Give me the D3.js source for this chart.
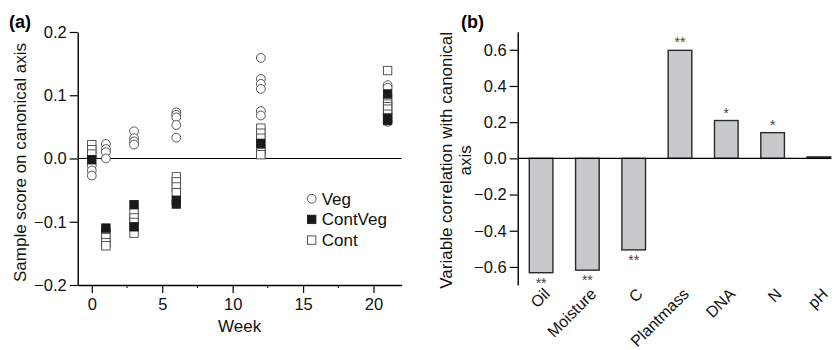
<!DOCTYPE html>
<html>
<head>
<meta charset="utf-8">
<script src="https://cdn.jsdelivr.net/npm/d3@7"></script>
<style>
  body { margin: 0; background: #fff; }
  svg { display: block; font-family: "Liberation Sans", Arial, sans-serif; }
</style>
</head>
<body>
<svg id="chart" width="834" height="350"></svg>
<script>
// Panel (a): sample scores per sampling week
const weeks = [0, 1, 3, 6, 12, 21];
const vegScores = [
  [-0.011, -0.019, -0.027],
  [0.023, 0.015, 0.010, 0.0],
  [0.043, 0.032, 0.027, 0.022],
  [0.073, 0.069, 0.065, 0.053, 0.033],
  [0.159, 0.126, 0.118, 0.110, 0.075, 0.068],
  [0.116, 0.112, 0.071, 0.058]
];
const contVegScores = [
  [-0.002],
  [-0.110],
  [-0.073, -0.108],
  [-0.066, -0.072],
  [0.024],
  [0.102, 0.064, 0.060]
];
const contScores = [
  [0.022, 0.014, 0.007],
  [-0.117, -0.125, -0.133, -0.138],
  [-0.086, -0.094, -0.101, -0.118],
  [-0.029, -0.037, -0.045, -0.054],
  [0.048, 0.040, 0.032, 0.016, 0.009, 0.006],
  [0.139, 0.094, 0.086, 0.082, 0.078, 0.070]
];
const weekTicks = [0, 5, 10, 15, 20];
const weekMinorTicks = [2.5, 7.5, 12.5, 17.5];
const scoreTicks = [-0.2, -0.1, 0.0, 0.1, 0.2];

// Panel (b): variable correlations with canonical axis
const variables = ["Oil", "Moisture", "C", "Plantmass", "DNA", "N", "pH"];
const correlations = [-0.632, -0.618, -0.506, 0.597, 0.209, 0.142, 0.008];
const significance = ["**", "**", "**", "**", "*", "*", ""];
const corrTicks = [-0.6, -0.4, -0.2, 0.0, 0.2, 0.4, 0.6];

const svg = d3.select("#chart");
const fmt = (d) => (d < 0 ? "\u2212" : "") + Math.abs(d).toFixed(1);

// ---------- panel (a) ----------
const xA = d3.scaleLinear().domain([-1, 22]).range([77.7, 401.7]);
const yA = d3.scaleLinear().domain([-0.2, 0.2]).range([285, 32]);

const gA = svg.append("g");

gA.append("g")
  .attr("transform", `translate(0,${yA(-0.2)})`)
  .call(d3.axisBottom(xA).tickValues(weekTicks).tickSize(8).tickPadding(5).tickSizeOuter(0))
  .call((g) => g.select(".domain").attr("stroke-width", 1.4))
  .call((g) => g.selectAll(".tick line").attr("stroke-width", 1.2))
  .call((g) => g.selectAll("text").style("font-size", "16.5px").attr("fill", "#111"));

gA.append("g")
  .selectAll("line")
  .data(weekMinorTicks)
  .join("line")
  .attr("x1", (d) => xA(d))
  .attr("x2", (d) => xA(d))
  .attr("y1", yA(-0.2))
  .attr("y2", yA(-0.2) + 3)
  .attr("stroke", "#000");

gA.append("g")
  .attr("transform", `translate(${xA(-1)},0)`)
  .call(d3.axisLeft(yA).tickValues(scoreTicks).tickFormat(fmt).tickSize(8).tickPadding(3).tickSizeOuter(0))
  .call((g) => g.select(".domain").attr("stroke-width", 1.4))
  .call((g) => g.selectAll(".tick line").attr("stroke-width", 1.2))
  .call((g) => g.selectAll("text").style("font-size", "16.5px").attr("fill", "#111"));

// zero line
gA.append("line")
  .attr("x1", xA(-1))
  .attr("x2", xA(22))
  .attr("y1", yA(0))
  .attr("y2", yA(0))
  .attr("stroke", "#000")
  .attr("stroke-width", 1.2);

const flatten = (arr) => arr.flatMap((vals, i) => vals.map((v) => ({ week: weeks[i], v })));

gA.append("g")
  .selectAll("circle")
  .data(flatten(vegScores))
  .join("circle")
  .attr("cx", (d) => xA(d.week))
  .attr("cy", (d) => yA(d.v))
  .attr("r", 4.4)
  .attr("fill", "#fff")
  .attr("stroke", "#444")
  .attr("stroke-width", 0.9);

const sq = 8.4;
gA.append("g")
  .selectAll("rect")
  .data(flatten(contScores))
  .join("rect")
  .attr("x", (d) => xA(d.week) - sq / 2)
  .attr("y", (d) => yA(d.v) - sq / 2)
  .attr("width", sq)
  .attr("height", sq)
  .attr("fill", "#fff")
  .attr("stroke", "#444")
  .attr("stroke-width", 0.9);

gA.append("g")
  .selectAll("rect")
  .data(flatten(contVegScores))
  .join("rect")
  .attr("x", (d) => xA(d.week) - sq / 2)
  .attr("y", (d) => yA(d.v) - sq / 2)
  .attr("width", sq)
  .attr("height", sq)
  .attr("fill", "#1a1a1a")
  .attr("stroke", "#1a1a1a")
  .attr("stroke-width", 0.9);

// legend
const legend = gA.append("g").attr("transform", "translate(311.7,198.7)");
const legendItems = ["Veg", "ContVeg", "Cont"];
legendItems.forEach((name, i) => {
  const row = legend.append("g").attr("transform", `translate(0,${i * 20.7})`);
  if (name === "Veg") {
    row.append("circle").attr("r", 4.4).attr("fill", "#fff").attr("stroke", "#444").attr("stroke-width", 0.9);
  } else {
    row.append("rect")
      .attr("x", -sq / 2).attr("y", -sq / 2).attr("width", sq).attr("height", sq)
      .attr("fill", name === "ContVeg" ? "#1a1a1a" : "#fff")
      .attr("stroke", name === "ContVeg" ? "#1a1a1a" : "#444")
      .attr("stroke-width", 0.9);
  }
  row.append("text")
    .attr("x", 10)
    .attr("dy", "0.35em")
    .style("font-size", "17px")
    .attr("fill", "#111")
    .text(name);
});

gA.append("text")
  .attr("x", xA(10.5))
  .attr("y", 332)
  .attr("text-anchor", "middle")
  .style("font-size", "17px")
  .attr("fill", "#111")
  .text("Week");

gA.append("text")
  .attr("transform", `translate(26,${yA(0) + 4}) rotate(-90)`)
  .attr("text-anchor", "middle")
  .style("font-size", "17px")
  .attr("fill", "#111")
  .text("Sample score on canonical axis");

gA.append("text")
  .attr("x", 9)
  .attr("y", 28)
  .style("font-size", "18px")
  .style("font-weight", "bold")
  .text("(a)");

// ---------- panel (b) ----------
const xB = d3.scaleBand().domain(variables).range([517.7, 842.3]).paddingInner(0.49).paddingOuter(0.25);
const yB = d3.scaleLinear().domain([-0.7, 0.7]).range([285, 31.7]);

const gB = svg.append("g");

gB.append("g")
  .attr("transform", `translate(517.7,0)`)
  .call(d3.axisLeft(yB).tickValues(corrTicks).tickFormat(fmt).tickSize(8).tickPadding(3).tickSizeOuter(0))
  .call((g) => g.select(".domain").attr("stroke-width", 1.4))
  .call((g) => g.selectAll(".tick line").attr("stroke-width", 1.2))
  .call((g) => g.selectAll("text").style("font-size", "16.5px").attr("fill", "#111"));

gB.append("g")
  .selectAll("rect")
  .data(variables)
  .join("rect")
  .attr("x", (d) => xB(d))
  .attr("width", xB.bandwidth())
  .attr("y", (d, i) => yB(Math.max(0, correlations[i])))
  .attr("height", (d, i) => Math.abs(yB(correlations[i]) - yB(0)))
  .attr("fill", "#c8c9cb")
  .attr("stroke", "#2a2a2a")
  .attr("stroke-width", 1.4);

gB.append("line")
  .attr("x1", 517.7)
  .attr("x2", xB("pH") + xB.bandwidth())
  .attr("y1", yB(0))
  .attr("y2", yB(0))
  .attr("stroke", "#000")
  .attr("stroke-width", 1.2);

gB.append("g")
  .selectAll("text")
  .data(variables)
  .join("text")
  .attr("x", (d) => xB(d) + xB.bandwidth() / 2)
  .attr("y", (d, i) => correlations[i] >= 0 ? yB(correlations[i]) - 3 : yB(correlations[i]) + 15)
  .attr("text-anchor", "middle")
  .style("font-size", "14px")
  .attr("fill", "#444")
  .text((d, i) => significance[i]);

// rotated category labels
gB.append("g")
  .selectAll("text")
  .data(variables)
  .join("text")
  .attr("transform", (d) => `translate(${xB(d) + xB.bandwidth() / 2 + 6},${291}) rotate(-45)`)
  .attr("text-anchor", "end")
  .attr("dy", "0.35em")
  .style("font-size", "16px")
  .attr("fill", "#111")
  .text((d) => d);

const yLabelB = gB.append("text")
  .attr("transform", `translate(452,${yB(0) + 2}) rotate(-90)`)
  .attr("text-anchor", "middle")
  .style("font-size", "17px")
  .attr("fill", "#111");
yLabelB.append("tspan").attr("x", 0).attr("dy", 0).text("Variable correlation with canonical");
yLabelB.append("tspan").attr("x", 0).attr("dy", "1.1em").text("axis");

gB.append("text")
  .attr("x", 461)
  .attr("y", 28)
  .style("font-size", "18px")
  .style("font-weight", "bold")
  .text("(b)");
</script>
</body>
</html>
